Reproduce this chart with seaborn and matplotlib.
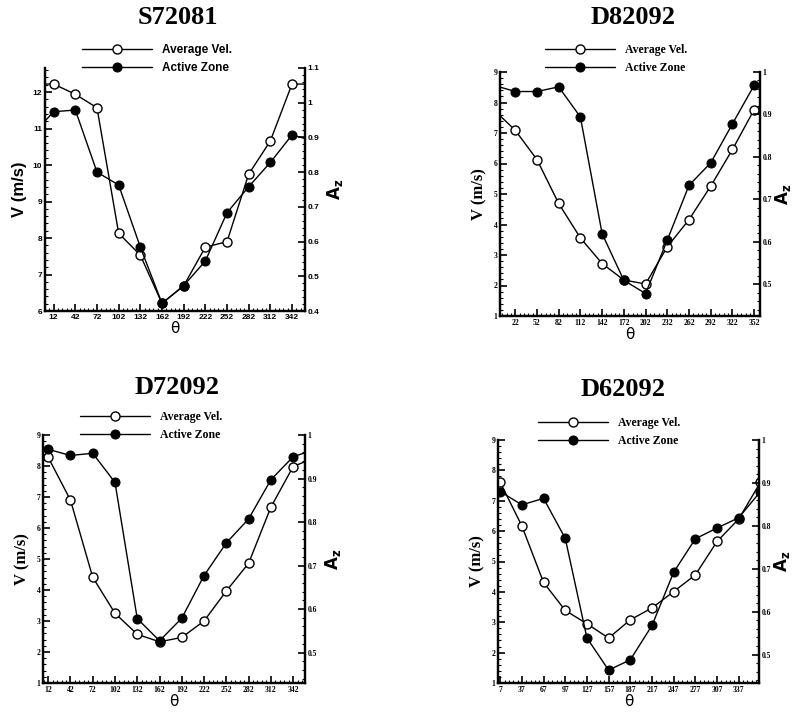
import matplotlib
matplotlib.use('Agg')
import matplotlib.pyplot as plt
import seaborn as sns
from matplotlib.ticker import FixedLocator, AutoMinorLocator, MultipleLocator, FormatStrFormatter

sns.set_style('ticks')
plt.rcParams.update({'text.color': 'black', 'axes.labelcolor': 'black',
                     'xtick.color': 'black', 'ytick.color': 'black', 'axes.edgecolor': 'black'})

# ---- data (angles beyond the axis limits wrap round) ----
theta_s72081 = [-18, 12, 42, 72, 102, 132, 162, 192, 222, 252, 282, 312, 342, 372]
vel_s72081 = [12.22, 12.22, 11.94, 11.57, 8.13, 7.53, 6.21, 6.69, 7.75, 7.90, 9.75, 10.66, 12.22, 12.22]
az_s72081 = [0.907, 0.974, 0.979, 0.80, 0.763, 0.584, 0.422, 0.473, 0.544, 0.683, 0.758, 0.828, 0.907, 0.89]

theta_d82092 = [-8, 22, 52, 82, 112, 142, 172, 202, 232, 262, 292, 322, 352, 382]
vel_d82092 = [7.77, 7.09, 6.13, 4.69, 3.56, 2.72, 2.18, 2.05, 3.27, 4.16, 5.26, 6.46, 7.77, 7.09]
az_d82092 = [0.969, 0.954, 0.954, 0.965, 0.894, 0.619, 0.509, 0.478, 0.604, 0.733, 0.786, 0.878, 0.969, 0.954]

theta_d72092 = [12, 42, 72, 102, 132, 162, 192, 222, 252, 282, 312, 342, 372]
vel_d72092 = [8.28, 6.90, 4.41, 3.25, 2.57, 2.33, 2.47, 3.00, 3.97, 4.86, 6.67, 7.98, 8.28]
az_d72092 = [0.967, 0.953, 0.958, 0.891, 0.578, 0.527, 0.579, 0.677, 0.752, 0.807, 0.897, 0.950, 0.967]

theta_d62092 = [7, 37, 67, 97, 127, 157, 187, 217, 247, 277, 307, 337, 367]
vel_d62092 = [7.61, 6.17, 4.31, 3.39, 2.95, 2.48, 3.08, 3.47, 4.01, 4.56, 5.66, 6.40, 7.61]
az_d62092 = [0.880, 0.849, 0.864, 0.771, 0.539, 0.464, 0.488, 0.568, 0.692, 0.770, 0.795, 0.819, 0.880]

titles = ['S72081', 'D82092', 'D72092', 'D62092']
xticks_all = [list(range(12, 343, 30)), list(range(22, 353, 30)),
              list(range(12, 343, 30)), list(range(7, 338, 30))]

W, H = 796, 714
fig = plt.figure(figsize=(W / 100, H / 100), dpi=100)

# pixel boxes (left, top, right, bottom) of each panel
boxes = [(45, 68, 305, 311), (500, 72, 760, 316), (43, 435, 305, 683), (498, 440, 759, 683)]
xlims = [(0, 360), (1, 360), (5, 358), (4, 365)]
vlims = [(6, 12.66), (1, 9), (1, 9), (1, 9)]
alims = [(0.4, 1.1), (0.425, 1.0), (0.43, 1.0), (0.434, 1.0)]
title_pos = [(178, 17), (633, 17), (177, 387), (623, 390)]
legend_pos = [(82, 59), (545, 59), (80, 426), (538, 432)]
az_pad = [4, 0.5, 4, 0.5]

panels = [(theta_s72081, vel_s72081, az_s72081), (theta_d82092, vel_d82092, az_d82092),
          (theta_d72092, vel_d72092, az_d72092), (theta_d62092, vel_d62092, az_d62092)]

for i, (th, vel, az) in enumerate(panels):
    l, t, r, b = boxes[i]
    ax = fig.add_axes([l / W, 1 - b / H, (r - l) / W, (b - t) / H])
    ax2 = ax.twinx()
    fam = ['Liberation Sans', 'DejaVu Sans'] if i == 0 else ['Liberation Serif', 'DejaVu Serif']
    tsize = 6 if i == 0 else 5.5

    sns.lineplot(x=th, y=vel, ax=ax, color='black', linewidth=1, marker='o', markersize=6.5,
                 markerfacecolor='white', markeredgecolor='black', markeredgewidth=1,
                 sort=False, label='Average Vel.', legend=False)
    sns.lineplot(x=th, y=az, ax=ax2, color='black', linewidth=1, marker='o', markersize=6.5,
                 markerfacecolor='black', markeredgecolor='black',
                 sort=False, label='Active Zone', legend=False)

    ax.set_xlim(*xlims[i])
    ax.set_ylim(*vlims[i])
    ax2.set_ylim(*alims[i])

    ax.xaxis.set_major_locator(FixedLocator(xticks_all[i]))
    ax.xaxis.set_minor_locator(AutoMinorLocator(5))
    ax.yaxis.set_major_locator(MultipleLocator(1))
    ax.yaxis.set_minor_locator(AutoMinorLocator(5))
    ax2.set_yticks([v / 10 for v in range(4, 12) if alims[i][0] - 1e-6 <= v / 10 <= alims[i][1] + 1e-6])
    ax2.yaxis.set_minor_locator(AutoMinorLocator(5))
    ax2.yaxis.set_major_formatter(FormatStrFormatter('%g'))

    for a in (ax, ax2):
        a.spines['top'].set_visible(False)
        for s in ('left', 'right', 'bottom'):
            a.spines[s].set_linewidth(1.6)
            a.spines[s].set_color('black')
        a.tick_params(which='major', direction='in', length=5, width=1.2, pad=2, colors='black')
        a.tick_params(which='minor', direction='in', length=2.5, width=0.8, colors='black')
    ax.tick_params(axis='y', which='both', left=True, right=False)
    ax.tick_params(axis='x', which='both', top=False)
    ax2.tick_params(axis='y', which='both', right=True, left=False)

    for lab in ax.get_xticklabels() + ax.get_yticklabels() + ax2.get_yticklabels():
        lab.set_family(fam)
        lab.set_fontsize(tsize)
        lab.set_fontweight('bold')

    ax.set_xlabel('θ', fontsize=11, family=['DejaVu Sans'], labelpad=0, color='black')
    ax.set_ylabel('V (m/s)', fontsize=12, fontweight='bold', family=fam, labelpad=4, color='black')
    ax2.set_ylabel('$\\mathbf{A_z}$', fontsize=12, labelpad=az_pad[i], rotation=90, color='black')

    fig.text(title_pos[i][0] / W, 1 - title_pos[i][1] / H, titles[i], ha='center', va='center',
             fontsize=19, fontweight='bold', family=['Liberation Serif', 'DejaVu Serif'], color='black')

    h1, l1 = ax.get_legend_handles_labels()
    h2, l2 = ax2.get_legend_handles_labels()
    leg = ax2.legend(h1 + h2, l1 + l2, loc='center left',
                     bbox_to_anchor=(legend_pos[i][0] / W, 1 - legend_pos[i][1] / H),
                     bbox_transform=fig.transFigure, frameon=False, borderpad=0, borderaxespad=0,
                     handlelength=5.9, handletextpad=0.9, labelspacing=0.45,
                     prop={'family': fam, 'weight': 'bold', 'size': 8.5})
    for txt in leg.get_texts():
        txt.set_color('black')

fig.savefig('out.png', dpi=100)
